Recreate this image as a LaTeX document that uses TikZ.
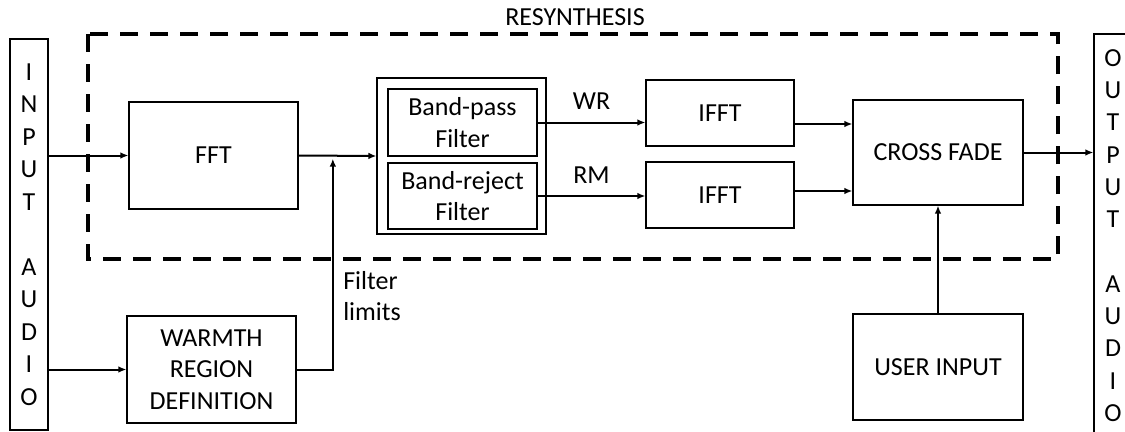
\documentclass[tikz,border=0pt]{standalone}
\usepackage{fontspec}
\setmainfont{Carlito}
\usepackage{tikz}
\usetikzlibrary{arrows.meta,calc}
\newcommand{\blockfont}{\fontsize{19.5}{23.8}\selectfont}

\tikzset{
  block/.style={draw, line width=0.9pt, inner sep=0pt, align=center, font=\blockfont},
  label/.style={inner sep=0pt, align=left, font=\blockfont},
  flow/.style={-{Latex[length=6pt,width=5pt]}, line width=1.5pt},
  region/.style={line width=2.3pt, dash pattern=on 13.5pt off 9pt}
}

\begin{document}
\begin{tikzpicture}[x=0.75pt, y=-0.75pt]
  \useasboundingbox (0,0) rectangle (1125,432);
  % resynthesis region
  \draw[region] (88,34) rectangle (1058,259);
  \node[label] (resyn) at (575,17) {RESYNTHESIS};

  \node[block, minimum width=28.5pt, minimum height=293.25pt, font=\fontsize{19.5}{24.4}\selectfont]
      (inaudio) at (29,234.5) {I\\N\\P\\U\\T\\\mbox{}\\A\\U\\D\\I\\O};
  \node[block, minimum width=28.5pt, minimum height=302.25pt, font=\fontsize{19.5}{24.2}\selectfont]
      (outaudio) at (1113,235.5) {O\\U\\T\\P\\U\\T\\\mbox{}\\A\\U\\D\\I\\O};

  \node[block, minimum width=126.75pt, minimum height=80.25pt] (fft) at (213.5,155.5) {FFT};
  \node[block, minimum width=126.75pt, minimum height=80.25pt] (warmth) at (211.5,369.5) {WARMTH\\REGION\\DEFINITION};

  \node[block, minimum width=126.75pt, minimum height=117pt] (filters) at (461.5,156) {};
  \node[block, minimum width=111.75pt, minimum height=50.25pt] (bandpass) at (462.5,122.5) {Band-pass\\Filter};
  \node[block, minimum width=111.75pt, minimum height=49.5pt] (bandreject) at (462.5,196) {Band-reject\\Filter};

  \node[block, minimum width=111pt, minimum height=49.5pt] (ifftwr) at (720,113) {IFFT};
  \node[block, minimum width=111pt, minimum height=49.5pt] (ifftrm) at (720,195) {IFFT};

  \node[block, minimum width=127.5pt, minimum height=78.75pt] (fade) at (938,152.5) {CROSS FADE};
  \node[block, minimum width=127.5pt, minimum height=79.5pt] (userin) at (938,367) {USER INPUT};

  \coordinate (join) at ($(fft.east)!0.44!(filters.west)$);

  % signal path
  \draw[flow] (inaudio.east |- fft.west) -- (fft.west);
  \draw[flow] (inaudio.east |- warmth.west) -- (warmth.west);
  \draw[flow] (fft.east) -- (filters.west);
  \draw[flow] (warmth.east) -| ($(join)+(0,3)$);
  \draw[flow] (bandpass.east) -- node[label, above=9pt] (wr) {WR} (bandpass.east -| ifftwr.west);
  \draw[flow] (bandreject.east) -- node[label, above=9pt] (rm) {RM} (bandreject.east -| ifftrm.west);
  \draw[flow] ($(ifftwr.east)+(0,11)$) -- ($(ifftwr.east -| fade.west)+(0,11)$);
  \draw[flow] ($(ifftrm.east)+(0,-4)$) -- ($(ifftrm.east -| fade.west)+(0,-4)$);
  \draw[flow] (fade.east) -- (fade.east -| outaudio.west);
  \draw[flow] (userin.north) -- (fade.south);

  \node[label, anchor=west] (limits) at (343,296) {Filter\\limits};
\end{tikzpicture}
\end{document}
